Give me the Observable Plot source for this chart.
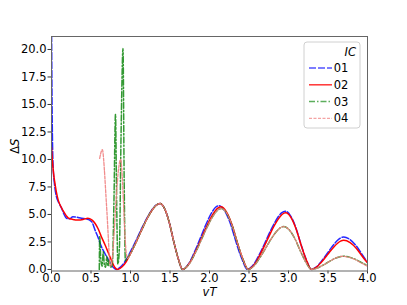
<!DOCTYPE html>
<html>
<head>
<meta charset="utf-8">
<script src="https://cdn.jsdelivr.net/npm/d3@7"></script>
<script src="https://cdn.jsdelivr.net/npm/@observablehq/plot@0.6"></script>
<style>
  html, body { margin: 0; padding: 0; background: white; }
  #chart { width: 407px; height: 305px; }
</style>
</head>
<body>
<div id="chart"></div>
<script>
// ---- data ----
const seriesNames = ["01", "02", "03", "04"];
const xTicks = [0, 0.5, 1, 1.5, 2, 2.5, 3, 3.5, 4];
const yTicks = [0, 2.5, 5, 7.5, 10, 12.5, 15, 17.5, 20];

const x01 = [0, 0.005, 0.01, 0.02, 0.04, 0.063, 0.09, 0.126, 0.16, 0.19, 0.23, 0.27, 0.32, 0.38, 0.44, 0.48, 0.52, 0.55, 0.59, 0.63, 0.68, 0.72, 0.75, 0.78, 0.82,
  0.876, 0.931, 0.987, 1.042, 1.098, 1.153, 1.209, 1.264, 1.32, 1.375, 1.432, 1.489, 1.546, 1.603, 1.66,
  1.706, 1.752, 1.798, 1.844, 1.89, 1.936, 1.982, 2.028, 2.074, 2.12, 2.192, 2.264, 2.336, 2.408, 2.48,
  2.528, 2.576, 2.624, 2.672, 2.72, 2.768, 2.816, 2.864, 2.912, 2.96, 3.026, 3.092, 3.158, 3.224, 3.29,
  3.331, 3.372, 3.413, 3.454, 3.495, 3.536, 3.577, 3.618, 3.659, 3.70, 3.78, 3.86, 3.94, 4.0];
const y01 = [23, 17, 13, 9.5, 7.6, 6.6, 6.1, 5.6, 5.0, 4.65, 4.6, 4.8, 4.75, 4.65, 4.6, 4.5, 4.2, 3.6, 2.9, 2.1, 1.4, 0.9, 0.5, 0.2, 0,
  0.24, 0.72, 1.44, 2.22, 3.06, 3.9, 4.68, 5.34, 5.82, 6.0, 5.52, 4.32, 2.58, 1.02, 0,
  0.23, 0.70, 1.39, 2.15, 2.96, 3.77, 4.52, 5.16, 5.63, 5.8, 5.34, 4.18, 2.49, 0.99, 0,
  0.21, 0.64, 1.27, 1.96, 2.70, 3.45, 4.13, 4.72, 5.14, 5.3, 4.88, 3.82, 2.28, 0.90, 0,
  0.12, 0.35, 0.71, 1.09, 1.50, 1.92, 2.30, 2.63, 2.86, 2.95, 2.71, 2.12, 1.27, 0.65];

const x02 = [0, 0.01, 0.025, 0.04, 0.06, 0.085, 0.12, 0.15, 0.21, 0.27, 0.34, 0.40, 0.46, 0.51, 0.55, 0.59, 0.63, 0.68, 0.72, 0.76, 0.80, 0.84,
  0.894, 0.947, 1.0, 1.054, 1.108, 1.161, 1.214, 1.268, 1.322, 1.375, 1.432, 1.489, 1.546, 1.603, 1.66,
  1.709, 1.757, 1.806, 1.854, 1.903, 1.951, 1.999, 2.048, 2.097, 2.145, 2.214, 2.283, 2.352, 2.421, 2.49,
  2.538, 2.585, 2.633, 2.68, 2.728, 2.775, 2.823, 2.87, 2.918, 2.965, 3.03, 3.095, 3.16, 3.225, 3.29,
  3.331, 3.372, 3.413, 3.454, 3.495, 3.536, 3.577, 3.618, 3.659, 3.70, 3.78, 3.86, 3.94, 4.0];
const y02 = [11.1, 10.0, 8.8, 8.0, 7.1, 6.3, 5.7, 5.3, 4.7, 4.55, 4.5, 4.55, 4.65, 4.5, 4.2, 3.7, 3.0, 2.2, 1.5, 0.8, 0.2, 0,
  0.24, 0.72, 1.44, 2.22, 3.06, 3.9, 4.68, 5.34, 5.82, 6.0, 5.52, 4.32, 2.58, 1.02, 0,
  0.23, 0.68, 1.37, 2.11, 2.91, 3.71, 4.45, 5.07, 5.53, 5.7, 5.24, 4.10, 2.45, 0.97, 0,
  0.21, 0.62, 1.24, 1.91, 2.63, 3.35, 4.02, 4.58, 5.0, 5.15, 4.74, 3.71, 2.21, 0.88, 0,
  0.11, 0.32, 0.64, 0.98, 1.35, 1.72, 2.07, 2.36, 2.57, 2.65, 2.44, 1.91, 1.14, 0.6];

const x03 = [0.605, 0.61, 0.625, 0.64, 0.655, 0.67, 0.685, 0.70, 0.715, 0.73, 0.75, 0.77, 0.79, 0.81, 0.825, 0.84, 0.86, 0.88, 0.905, 0.92, 0.935, 0.95,
  1.0, 1.054, 1.108, 1.161, 1.214, 1.268, 1.322, 1.375, 1.432, 1.489, 1.546, 1.603, 1.66,
  1.709, 1.758, 1.807, 1.856, 1.905, 1.954, 2.003, 2.052, 2.101, 2.15, 2.218, 2.286, 2.354, 2.422, 2.49,
  2.535, 2.58, 2.625, 2.67, 2.715, 2.76, 2.805, 2.85, 2.895, 2.94, 3.01, 3.08, 3.15, 3.22, 3.29,
  3.33, 3.37, 3.41, 3.45, 3.49, 3.53, 3.57, 3.61, 3.65, 3.69, 3.77, 3.85, 3.93, 4.0];
const y03 = [0, 3.0, 0.8, 0.3, 1.6, 0.4, 0.2, 1.2, 0.3, 0.9, 0.2, 0.5, 6, 14.1, 6, 0.5, 2, 12, 20.1, 8, 0.8, 0.9,
  1.44, 2.22, 3.06, 3.9, 4.68, 5.34, 5.82, 6.0, 5.52, 4.32, 2.58, 1.02, 0,
  0.22, 0.67, 1.33, 2.05, 2.83, 3.61, 4.33, 4.94, 5.38, 5.55, 5.11, 4.0, 2.39, 0.94, 0,
  0.16, 0.47, 0.94, 1.44, 1.99, 2.54, 3.04, 3.47, 3.78, 3.9, 3.59, 2.81, 1.68, 0.66, 0,
  0.05, 0.14, 0.29, 0.44, 0.61, 0.78, 0.94, 1.07, 1.16, 1.2, 1.12, 0.91, 0.6, 0.36];

const x04 = [0.61, 0.625, 0.645, 0.66, 0.67, 0.69, 0.705, 0.72, 0.735, 0.75, 0.77, 0.79, 0.82, 0.85, 0.875, 0.895, 0.917, 0.935, 0.946, 0.965,
  1.0, 1.054, 1.108, 1.161, 1.214, 1.268, 1.322, 1.375, 1.432, 1.489, 1.546, 1.603, 1.66,
  1.709, 1.758, 1.807, 1.856, 1.905, 1.954, 2.003, 2.052, 2.101, 2.15, 2.218, 2.286, 2.354, 2.422, 2.49,
  2.535, 2.58, 2.625, 2.67, 2.715, 2.76, 2.805, 2.85, 2.895, 2.94, 3.01, 3.08, 3.15, 3.22, 3.29,
  3.33, 3.37, 3.41, 3.45, 3.49, 3.53, 3.57, 3.61, 3.65, 3.69, 3.77, 3.85, 3.93, 4.0];
const y04 = [10.1, 10.6, 10.9, 10.0, 9.0, 6.6, 4.8, 2.8, 0.8, 0.3, 1.0, 3.0, 6.6, 9.2, 10.0, 8.5, 5.1, 2.5, 1.5, 1.0,
  1.44, 2.22, 3.06, 3.9, 4.68, 5.34, 5.82, 6.0, 5.52, 4.32, 2.58, 1.02, 0,
  0.22, 0.67, 1.33, 2.05, 2.83, 3.61, 4.33, 4.94, 5.38, 5.55, 5.11, 4.0, 2.39, 0.94, 0,
  0.16, 0.47, 0.94, 1.44, 1.99, 2.54, 3.04, 3.47, 3.78, 3.9, 3.59, 2.81, 1.68, 0.66, 0,
  0.05, 0.14, 0.29, 0.44, 0.61, 0.78, 0.94, 1.07, 1.16, 1.2, 1.1, 0.88, 0.56, 0.3];

// ---- styles (kept apart from data) ----
const styles = {
  "01": {stroke: "#0000ff", strokeOpacity: 0.85, strokeDasharray: "7,2", strokeWidth: 1.5},
  "02": {stroke: "#ff0000", strokeOpacity: 1, strokeDasharray: null, strokeWidth: 1.5},
  "03": {stroke: "#008000", strokeOpacity: 0.8, strokeDasharray: "6,2,1.5,2", strokeWidth: 1.5},
  "04": {stroke: "#f08080", strokeOpacity: 0.9, strokeDasharray: "3,1.5", strokeWidth: 1.3}
};
const seriesXY = {"01": [x01, y01], "02": [x02, y02], "03": [x03, y03], "04": [x04, y04]};

const toRows = (xs, ys) => xs.map((x, i) => ({x, y: ys[i]}));

const lineMarks = seriesNames.map(name => {
  const [xs, ys] = seriesXY[name];
  const s = styles[name];
  return Plot.line(toRows(xs, ys), {
    x: "x", y: "y", curve: "monotone-x", clip: true,
    stroke: s.stroke, strokeOpacity: s.strokeOpacity, strokeWidth: s.strokeWidth,
    strokeDasharray: s.strokeDasharray || undefined
  });
});

const fmt = d3.format(".1f");
const chart = Plot.plot({
  width: 407, height: 305,
  marginLeft: 51, marginRight: 40, marginTop: 36, marginBottom: 34.5,
  x: {domain: [0, 4]},
  y: {domain: [-0.14, 21.18]},
  style: {fontFamily: "DejaVu Sans", fontSize: "11.5px", color: "black", background: "white"},
  marks: [
    Plot.axisX({ticks: xTicks, tickFormat: fmt, tickSize: 3, tickPadding: 0, label: null, stroke: "#333", fontSize: 11.5}),
    Plot.axisY({ticks: yTicks, tickFormat: fmt, tickSize: 3.5, tickPadding: 1.5, label: null, stroke: "#333", fontSize: 11.5}),
    ...lineMarks,
    Plot.frame({stroke: "#666", strokeWidth: 1}),
    Plot.text(["vT"], {frameAnchor: "bottom", dy: 24.5, fontStyle: "italic", fontSize: 11.5, fill: "black"}),
    Plot.text(["ΔS"], {frameAnchor: "left", dx: -36, rotate: -90, fontSize: 11.5, fill: "black"})
  ]
});

document.getElementById("chart").appendChild(chart);

// mixed style for ΔS label
d3.select(chart).selectAll("text").filter(function() { return this.textContent === "ΔS"; })
  .each(function() {
    const t = d3.select(this);
    t.text(null);
    t.append("tspan").text("Δ");
    t.append("tspan").attr("font-style", "italic").text("S");
  });

// legend
const svg = d3.select(chart);
const lg = svg.append("g").attr("font-family", "DejaVu Sans").attr("font-size", 11.5);
lg.append("rect").attr("x", 304).attr("y", 42).attr("width", 56).attr("height", 86)
  .attr("rx", 3).attr("fill", "white").attr("fill-opacity", 0.85).attr("stroke", "#d0d0d0").attr("stroke-width", 1);
lg.append("text").attr("x", 356).attr("y", 56).attr("text-anchor", "end").attr("font-style", "italic").text("IC");
seriesNames.forEach((name, i) => {
  const y = 68 + i * 16.8;
  const s = styles[name];
  lg.append("line").attr("x1", 309).attr("x2", 332).attr("y1", y).attr("y2", y)
    .attr("stroke", s.stroke).attr("stroke-opacity", s.strokeOpacity * 0.8).attr("stroke-width", s.strokeWidth)
    .attr("stroke-dasharray", s.strokeDasharray);
  lg.append("text").attr("x", 341).attr("y", y + 4).text(name);
});
</script>
</body>
</html>
